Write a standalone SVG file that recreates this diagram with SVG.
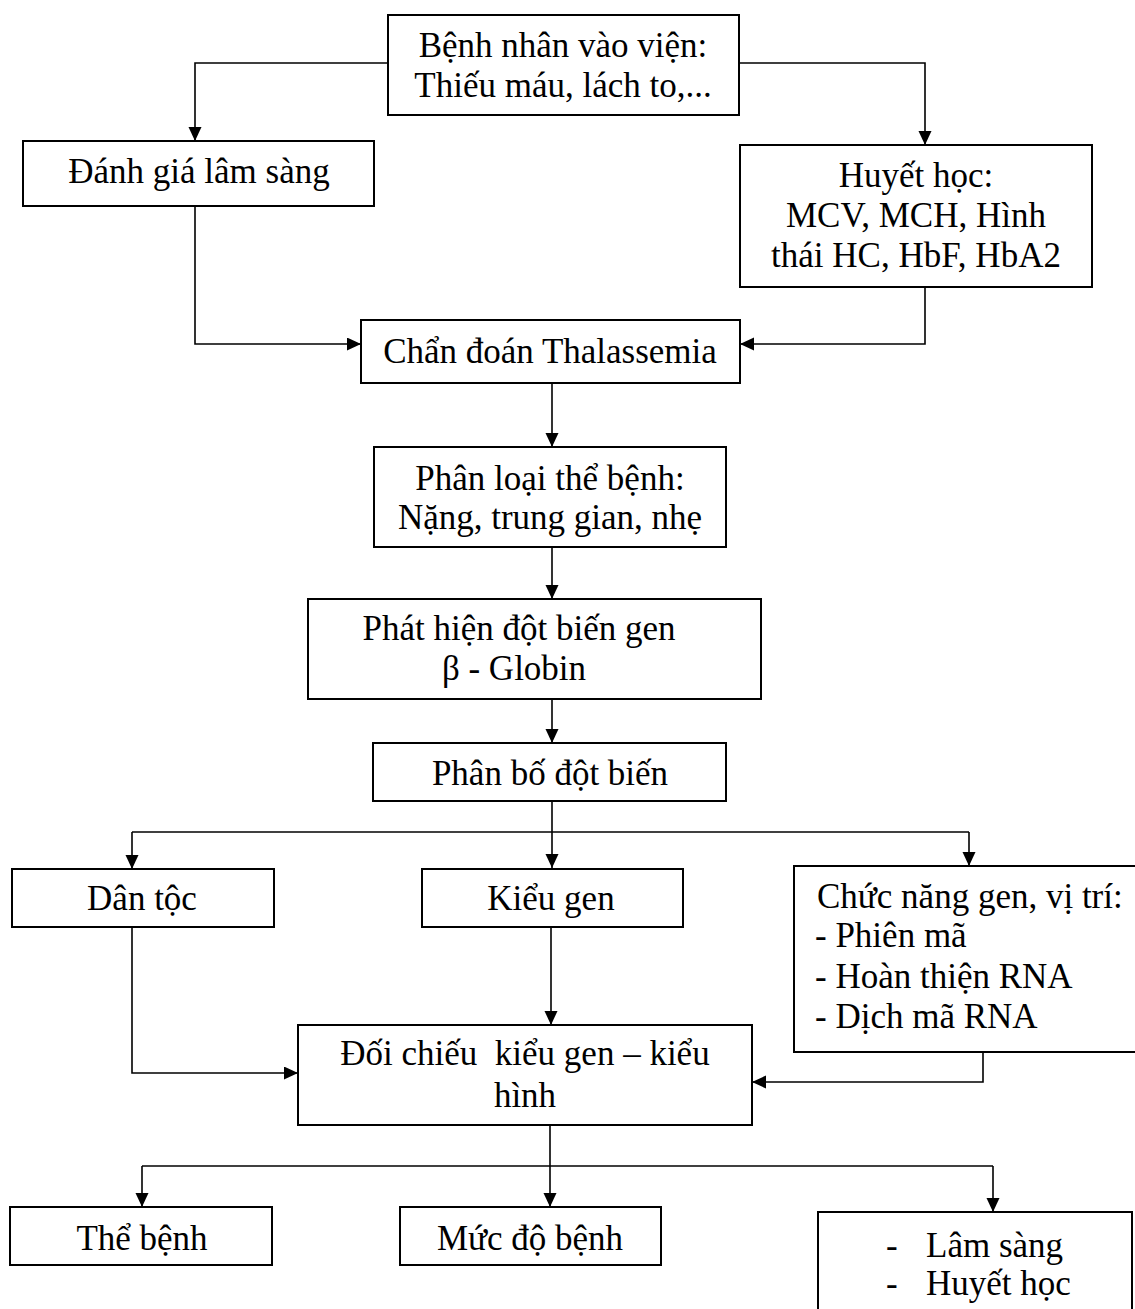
<svg xmlns="http://www.w3.org/2000/svg" width="1135" height="1309" viewBox="0 0 1135 1309">
<style>
.box{fill:#fff;stroke:#000;stroke-width:2}
.c{fill:none;stroke:#000;stroke-width:1.6}
text{font-family:"Liberation Serif","Times New Roman",serif;font-size:35px;fill:#000}
.m{text-anchor:middle}
</style>
<defs>
<marker id="ah" markerUnits="userSpaceOnUse" markerWidth="14" markerHeight="14" refX="14" refY="6.5" orient="auto">
<path d="M0,0 L14,6.5 L0,13 z" fill="#000"/>
</marker>
</defs>
<rect width="1135" height="1309" fill="#fff"/>
<g id="connectors">
<path class="c" d="M388,63 H195 V141" marker-end="url(#ah)"/>
<path class="c" d="M739,63 H925 V145" marker-end="url(#ah)"/>
<path class="c" d="M195,206 V344 H361" marker-end="url(#ah)"/>
<path class="c" d="M925,287 V344 H740" marker-end="url(#ah)"/>
<path class="c" d="M552,383 V447" marker-end="url(#ah)"/>
<path class="c" d="M552,547 V599" marker-end="url(#ah)"/>
<path class="c" d="M552,699 V743" marker-end="url(#ah)"/>
<path class="c" d="M552,801 V868" marker-end="url(#ah)"/>
<path class="c" d="M132,832 H969"/>
<path class="c" d="M132,832 V869" marker-end="url(#ah)"/>
<path class="c" d="M969,832 V866" marker-end="url(#ah)"/>
<path class="c" d="M132,927 V1073 H298" marker-end="url(#ah)"/>
<path class="c" d="M551,927 V1025" marker-end="url(#ah)"/>
<path class="c" d="M983,1052 V1082 H752" marker-end="url(#ah)"/>
<path class="c" d="M550,1125 V1207" marker-end="url(#ah)"/>
<path class="c" d="M142,1166 H993"/>
<path class="c" d="M142,1166 V1207" marker-end="url(#ah)"/>
<path class="c" d="M993,1166 V1212" marker-end="url(#ah)"/>
</g>
<g id="n-benhnhan">
<rect class="box" x="388" y="15" width="351" height="100"/>
<text class="m" x="563" y="57">Bệnh nhân vào viện:</text>
<text class="m" x="563" y="97">Thiếu máu, lách to,...</text>
</g>
<g id="n-danhgia">
<rect class="box" x="23" y="141" width="351" height="65"/>
<text class="m" x="199" y="183">Đánh giá lâm sàng</text>
</g>
<g id="n-huyethoc">
<rect class="box" x="740" y="145" width="352" height="142"/>
<text class="m" x="916" y="187">Huyết học:</text>
<text class="m" x="916" y="227">MCV, MCH, Hình</text>
<text class="m" x="916" y="267">thái HC, HbF, HbA2</text>
</g>
<g id="n-chandoan">
<rect class="box" x="361" y="320" width="379" height="63"/>
<text class="m" x="550" y="363">Chẩn đoán Thalassemia</text>
</g>
<g id="n-phanloai">
<rect class="box" x="374" y="447" width="352" height="100"/>
<text class="m" x="550" y="490">Phân loại thể bệnh:</text>
<text class="m" x="550" y="529">Nặng, trung gian, nhẹ</text>
</g>
<g id="n-phathien">
<rect class="box" x="308" y="599" width="453" height="100"/>
<text class="m" x="519" y="640">Phát hiện đột biến gen</text>
<text class="m" x="514" y="680">β - Globin</text>
</g>
<g id="n-phanbo">
<rect class="box" x="373" y="743" width="353" height="58"/>
<text class="m" x="550" y="785">Phân bố đột biến</text>
</g>
<g id="n-dantoc">
<rect class="box" x="12" y="869" width="262" height="58"/>
<text class="m" x="142" y="910">Dân tộc</text>
</g>
<g id="n-kieugen">
<rect class="box" x="422" y="869" width="261" height="58"/>
<text class="m" x="551" y="910">Kiểu gen</text>
</g>
<g id="n-chucnang">
<rect class="box" x="794" y="866" width="350" height="186"/>
<text x="817" y="908">Chức năng gen, vị trí:</text>
<text x="815" y="947">- Phiên mã</text>
<text x="815" y="988">- Hoàn thiện RNA</text>
<text x="815" y="1028">- Dịch mã RNA</text>
</g>
<g id="n-doichieu">
<rect class="box" x="298" y="1025" width="454" height="100"/>
<text class="m" x="525" y="1065" xml:space="preserve" style="white-space:pre">Đối chiếu  kiểu gen – kiểu</text>
<text class="m" x="525" y="1107">hình</text>
</g>
<g id="n-thebenh">
<rect class="box" x="10" y="1207" width="262" height="58"/>
<text class="m" x="142" y="1250">Thể bệnh</text>
</g>
<g id="n-mucdo">
<rect class="box" x="400" y="1207" width="261" height="58"/>
<text class="m" x="530" y="1250">Mức độ bệnh</text>
</g>
<g id="n-lamsang">
<rect class="box" x="818" y="1212" width="314" height="120"/>
<text x="886" y="1257">-</text>
<text x="926" y="1257">Lâm sàng</text>
<text x="886" y="1295">-</text>
<text x="926" y="1295">Huyết học</text>
</g>
</svg>
